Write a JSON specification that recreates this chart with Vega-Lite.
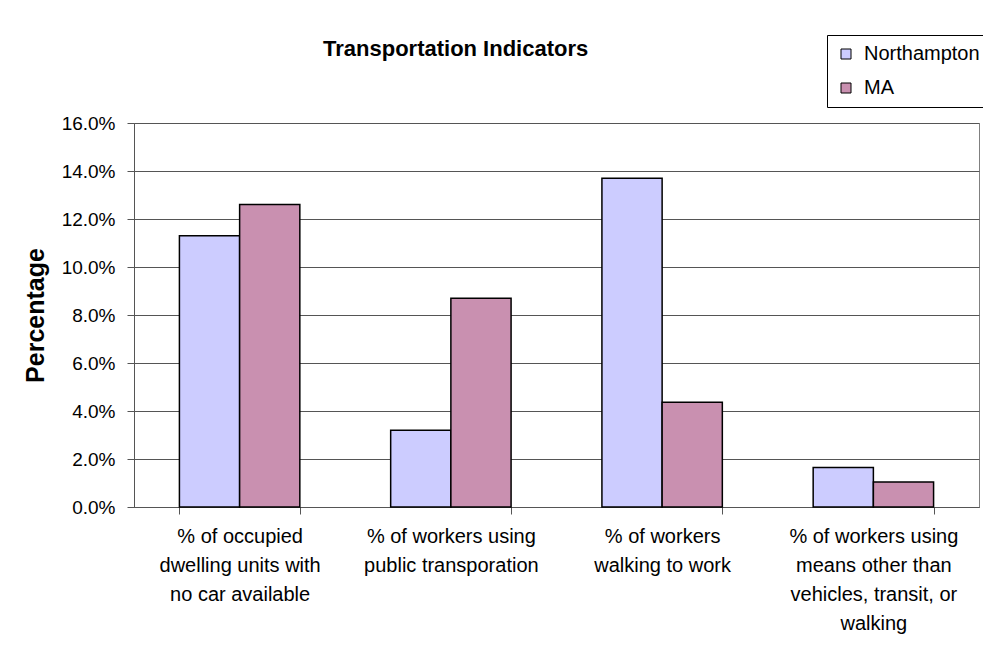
{
  "$schema": "https://vega.github.io/schema/vega-lite/v6.json",
  "width": 845,
  "height": 384,
  "autosize": "none",
  "padding": {"left": 134, "top": 123, "right": 4, "bottom": 144},
  "background": "white",
  "title": {
    "text": "Transportation Indicators",
    "font": "Liberation Sans",
    "fontSize": 22,
    "fontWeight": "bold",
    "color": "black",
    "anchor": "start",
    "dx": 300,
    "baseline": "alphabetic",
    "offset": 0,
    "dy": 43
  },
  "data": {
    "values": [
      {"indicator": "% of occupied|dwelling units with|no car available", "area": "Northampton", "pct": 0.113},
      {"indicator": "% of occupied|dwelling units with|no car available", "area": "MA", "pct": 0.126},
      {"indicator": "% of workers using|public transporation", "area": "Northampton", "pct": 0.032},
      {"indicator": "% of workers using|public transporation", "area": "MA", "pct": 0.087},
      {"indicator": "% of workers|walking to work", "area": "Northampton", "pct": 0.137},
      {"indicator": "% of workers|walking to work", "area": "MA", "pct": 0.0436},
      {"indicator": "% of workers using|means other than|vehicles, transit, or|walking", "area": "Northampton", "pct": 0.0165},
      {"indicator": "% of workers using|means other than|vehicles, transit, or|walking", "area": "MA", "pct": 0.0104}
    ]
  },
  "mark": {"type": "bar", "stroke": "black", "strokeWidth": 1.5},
  "encoding": {
    "x": {
      "field": "indicator",
      "type": "nominal",
      "sort": null,
      "scale": {"paddingInner": 0.43, "paddingOuter": 0.215},
      "axis": {
        "title": null,
        "labelAngle": 0,
        "labelExpr": "split(datum.label, '|')",
        "labelFont": "Liberation Sans",
        "labelFontSize": 20,
        "labelColor": "black",
        "labelLineHeight": 29,
        "labelPadding": 12,
        "labelLimit": 0,
        "tickBand": "extent",
        "tickSize": 7,
        "tickColor": "#555",
        "domainColor": "#555",
        "labelOverlap": false
      }
    },
    "xOffset": {"field": "area", "type": "nominal", "sort": ["Northampton", "MA"], "scale": {"paddingInner": 0, "paddingOuter": 0}},
    "y": {
      "field": "pct",
      "type": "quantitative",
      "scale": {"domain": [0, 0.16], "nice": false},
      "axis": {
        "values": [0, 0.02, 0.04, 0.06, 0.08, 0.1, 0.12, 0.14, 0.16],
        "format": ".1%",
        "title": "Percentage",
        "titleFont": "Liberation Sans",
        "titleFontSize": 25,
        "titleFontWeight": "bold",
        "titleColor": "black",
        "titleAngle": 270,
        "titleAlign": "center",
        "titleBaseline": "alphabetic",
        "titleX": -91,
        "titleY": 192,
        "labelFont": "Liberation Sans",
        "labelFontSize": 19,
        "labelColor": "black",
        "labelPadding": 12,
        "tickSize": 7,
        "tickColor": "#555",
        "domainColor": "#555",
        "grid": true,
        "gridColor": "#555",
        "gridWidth": 1
      }
    },
    "color": {
      "field": "area",
      "type": "nominal",
      "scale": {"domain": ["Northampton", "MA"], "range": ["#ccccff", "#c990b0"]},
      "legend": {
        "title": null,
        "orient": "none",
        "legendX": 693,
        "legendY": -88,
        "direction": "vertical",
        "padding": 9,
        "rowPadding": 14,
        "strokeColor": "black",
        "fillColor": "white",
        "symbolType": "square",
        "symbolSize": 100,
        "symbolStrokeColor": "black",
        "symbolStrokeWidth": 1,
        "symbolOpacity": 1,
        "labelFont": "Liberation Sans",
        "labelFontSize": 20,
        "labelColor": "black",
        "labelOffset": 8,
        "labelLimit": 0
      }
    }
  },
  "config": {
    "view": {"stroke": "#808080", "strokeWidth": 1}
  }
}
